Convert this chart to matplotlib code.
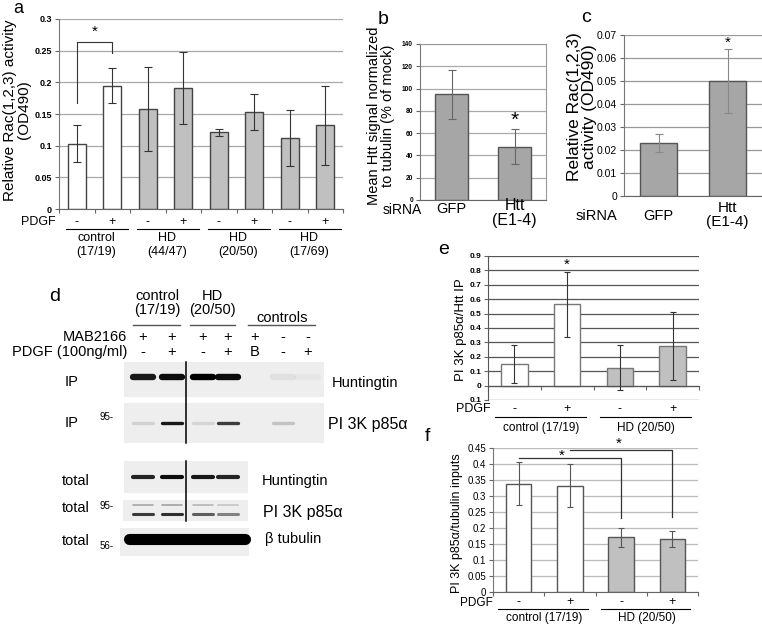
import matplotlib
matplotlib.use('Agg')
import matplotlib.pyplot as plt
import matplotlib.transforms as mtransforms
from matplotlib.patches import Rectangle

plt.rcParams['font.family'] = ['Liberation Sans', 'DejaVu Sans']

W, H = 762, 626

# panel a: Rac activity in fibroblasts
a_groups = ['control\n(17/19)', 'HD\n(44/47)', 'HD\n(20/50)', 'HD\n(17/69)']
a_pdgf = ['-', '+', '-', '+', '-', '+', '-', '+']
a_mean = [0.103, 0.195, 0.158, 0.191, 0.121, 0.153, 0.112, 0.132]
a_err = [0.029, 0.027, 0.067, 0.057, 0.006, 0.028, 0.044, 0.063]
a_ticks = [0, 0.05, 0.1, 0.15, 0.2, 0.25, 0.3]
a_ticklabels = ['0', '0.05', '0.1', '0.15', '0.2', '0.25', '0.3']

# panel b: Htt knockdown
b_labels = ['GFP', 'Htt\n(E1-4)']
b_mean = [95, 48]
b_err = [22, 15.5]

# panel c: Rac after knockdown
c_mean = [0.023, 0.050]
c_err = [0.004, 0.014]

# panel e: PI3K p85a / Htt IP
e_pdgf = ['-', '+', '-', '+']
e_groups = ['control (17/19)', 'HD (20/50)']
e_mean = [0.15, 0.565, 0.125, 0.275]
e_err = [0.135, 0.225, 0.155, 0.237]
e_ticks = [-0.1, 0, 0.1, 0.2, 0.3, 0.4, 0.5, 0.6, 0.7, 0.8, 0.9]
e_ticklabels = ['0.1', '0', '0.1', '0.2', '0.3', '0.4', '0.5', '0.6', '0.7', '0.8', '0.9']

# panel f: PI3K p85a / tubulin inputs
f_mean = [0.338, 0.332, 0.171, 0.166]
f_err = [0.067, 0.067, 0.030, 0.026]
f_ticks = [0, 0.05, 0.1, 0.15, 0.2, 0.25, 0.3, 0.35, 0.4, 0.45]
f_ticklabels = ['0', '0.05', '0.1', '0.15', '0.2', '0.25', '0.3', '0.35', '0.4', '0.45']

# panel d: western blot lanes
d_mab = ['+', '+', '+', '+', '+', '-', '-']
d_pdgf = ['-', '+', '-', '+', 'B', '-', '+']
ip_htt = [0.9, 0.95, 1.0, 0.95, 0.0, 0.06, 0.03]
ip_pi3k = [0.12, 0.9, 0.1, 0.75, 0.0, 0.18, 0.0]
total_htt = [0.85, 0.95, 0.9, 0.85]
total_pi3k = [0.75, 0.8, 0.6, 0.45]

WHITE = 'white'
GREY = '#c0c0c0'
DARK = '#a6a6a6'

fig = plt.figure(figsize=(W / 100, H / 100), dpi=100)

ov = fig.add_axes([0, 0, 1, 1], zorder=10)
ov.set_xlim(0, W)
ov.set_ylim(H, 0)
ov.axis('off')
ov.patch.set_visible(False)


def px_axes(x0, y0, x1, y1):
    return fig.add_axes([x0 / W, 1 - y1 / H, (x1 - x0) / W, (y1 - y0) / H])


def mixed(ax):
    # x in data units of ax, y in reference pixels
    return mtransforms.blended_transform_factory(ax.transData, ov.transData)


def base_axes(ax, n, ticks, labels, ylim, fs, bold, grid_col):
    ax.set_xlim(-0.5, n - 0.5)
    ax.set_ylim(*ylim)
    ax.set_yticks(ticks)
    ax.set_yticklabels(labels, fontsize=fs, fontweight='bold' if bold else 'normal')
    ax.yaxis.grid(True, color=grid_col, lw=0.9)
    ax.set_axisbelow(True)
    ax.tick_params(axis='y', length=3, width=0.8, color='#666', pad=2)
    ax.tick_params(axis='x', length=3, width=0.8, color='#666')
    for s in ['top', 'right']:
        ax.spines[s].set_visible(False)
    ax.spines['left'].set_color('#777')
    ax.spines['bottom'].set_color('#666')


# ---------------- panel a ----------------
ax = px_axes(59, 19, 343, 209)
base_axes(ax, 8, a_ticks, a_ticklabels, (0, 0.3), 6.5, True, '#a8a8a8')
xs = list(range(8))
cols = [WHITE, WHITE] + [GREY] * 6
ax.bar(xs, a_mean, width=0.52, color=cols, edgecolor='#444', lw=1, zorder=2)
ax.errorbar(xs, a_mean, yerr=a_err, fmt='none', ecolor='#333', elinewidth=0.8, capsize=3, capthick=0.8, zorder=3)
ax.set_xticks([i - 0.5 for i in range(9)])
ax.set_xticklabels([])
ax.plot([0, 0, 1, 1], [0.168, 0.264, 0.264, 0.247], color='#333', lw=0.8, zorder=3)
ax.text(0.5, 0.268, '*', ha='center', va='bottom', fontsize=11)
t = mixed(ax)
ax.text(-0.6, 222, 'PDGF', transform=t, ha='right', va='center', fontsize=9)
for i, s in enumerate(a_pdgf):
    ax.text(i, 222, s, transform=t, ha='center', va='center', fontsize=9)
for g, lab in enumerate(a_groups):
    ax.plot([2 * g - 0.3, 2 * g + 1.45], [229, 229], transform=t, color='black', lw=0.8, clip_on=False)
    ax.text(2 * g + 0.55, 245, lab, transform=t, ha='center', va='center', fontsize=9, linespacing=1.15)
ov.text(17, 110, 'Relative Rac(1,2,3) activity\n(OD490)', rotation=90, ha='center', va='center',
        fontsize=11, multialignment='center', linespacing=0.95)
ov.text(18, 13, 'a', ha='center', va='baseline', fontsize=13)

# ---------------- panel b ----------------
ax = px_axes(420, 44, 546, 200)
base_axes(ax, 2, list(range(0, 141, 20)), [str(v) for v in range(0, 141, 20)], (0, 140), 4.8, True, '#aaa')
for s in ['top', 'right']:
    ax.spines[s].set_visible(True)
    ax.spines[s].set_color('#999')
ax.set_xticks([])
ax.bar([0, 1], b_mean, width=0.52, color=DARK, edgecolor='#555', lw=1, zorder=2)
ax.errorbar([0, 1], b_mean, yerr=b_err, fmt='none', ecolor='#666', elinewidth=0.8, capsize=3, capthick=0.8, zorder=3)
ax.text(1, 63, '*', ha='center', va='bottom', fontsize=15)
t = mixed(ax)
ax.text(-0.47, 210, 'siRNA', transform=t, ha='right', va='center', fontsize=10)
ax.text(0, 209, b_labels[0], transform=t, ha='center', va='center', fontsize=10.5)
ax.text(1, 213, b_labels[1], transform=t, ha='center', va='center', fontsize=11.5, linespacing=0.95)
ov.text(381, 116, 'Mean Htt signal normalized\nto tubulin (% of mock)', rotation=90, ha='center',
        va='center', fontsize=10.5, multialignment='center', linespacing=1.0)
ov.text(383, 24, 'b', ha='center', va='baseline', fontsize=14)

# ---------------- panel c ----------------
ax = px_axes(624, 35, 762, 196)
c_ticks = [0, 0.01, 0.02, 0.03, 0.04, 0.05, 0.06, 0.07]
base_axes(ax, 2, c_ticks, ['0', '0.01', '0.02', '0.03', '0.04', '0.05', '0.06', '0.07'], (0, 0.07), 7.5, False, '#999')
ax.set_xticks([])
ax.bar([0, 1], c_mean, width=0.55, color=DARK, edgecolor='#555', lw=1, zorder=2)
ax.errorbar([0, 1], c_mean, yerr=c_err, fmt='none', ecolor='#888', elinewidth=0.8, capsize=3, capthick=0.8, zorder=3)
ax.text(1, 0.0635, '*', ha='center', va='bottom', fontsize=11)
t = mixed(ax)
ax.text(-0.6, 216, 'siRNA', transform=t, ha='right', va='center', fontsize=10.5)
ax.text(0, 216, b_labels[0], transform=t, ha='center', va='center', fontsize=10.5)
ax.text(1, 215, b_labels[1], transform=t, ha='center', va='center', fontsize=11, linespacing=0.95)
ov.text(582, 107, 'Relative Rac(1,2,3)\nactivity (OD490)', rotation=90, ha='center', va='center',
        fontsize=12.5, multialignment='center', linespacing=1.05)
ov.text(586, 22, 'c', ha='center', va='baseline', fontsize=14)

# ---------------- panel e ----------------
ax = px_axes(488, 256, 699, 400)
base_axes(ax, 4, e_ticks, e_ticklabels, (-0.1, 0.9), 6, True, '#555')
ax.spines['left'].set_color('#555')
ax.spines['bottom'].set_position(('data', 0))
ax.spines['bottom'].set_color('#555')
ax.set_xticks([i - 0.5 for i in range(5)])
ax.set_xticklabels([])
ax.bar(range(4), e_mean, width=0.5, color=[WHITE, WHITE, GREY, GREY], edgecolor='#777', lw=1, zorder=2)
ax.errorbar(range(4), e_mean, yerr=e_err, fmt='none', ecolor='#333', elinewidth=0.8, capsize=2.5, capthick=0.8, zorder=3)
ax.text(1, 0.79, '*', ha='center', va='bottom', fontsize=11)
t = mixed(ax)
ax.text(-0.45, 409, 'PDGF', transform=t, ha='right', va='center', fontsize=9)
for i, s in enumerate(e_pdgf):
    ax.text(i, 409, s, transform=t, ha='center', va='center', fontsize=9)
for g, lab in enumerate(e_groups):
    ax.plot([2 * g - 0.37, 2 * g + 1.35], [417, 417], transform=t, color='black', lw=0.8, clip_on=False)
    ax.text(2 * g + 0.5, 428, lab, transform=t, ha='center', va='center', fontsize=8.5)
ov.text(461, 330, 'PI 3K p85α/Htt IP', rotation=90, ha='center', va='center', fontsize=9.5)
ov.text(444, 254, 'e', ha='center', va='baseline', fontsize=14)

# ---------------- panel f ----------------
ax = px_axes(493, 448, 698, 592)
base_axes(ax, 4, f_ticks, f_ticklabels, (0, 0.45), 7, False, '#bbb')
ax.set_xticks([i - 0.5 for i in range(5)])
ax.set_xticklabels([])
ax.bar(range(4), f_mean, width=0.5, color=[WHITE, WHITE, GREY, GREY], edgecolor='#555', lw=1, zorder=2)
ax.errorbar(range(4), f_mean, yerr=f_err, fmt='none', ecolor='#555', elinewidth=0.8, capsize=2.5, capthick=0.8, zorder=3)
ax.plot([0, 2, 2], [0.42, 0.42, 0.231], color='#333', lw=0.9, zorder=3, clip_on=False)
ax.plot([1, 3, 3], [0.445, 0.445, 0.235], color='#333', lw=0.9, zorder=3, clip_on=False)
ax.text(0.85, 0.405, '*', ha='center', va='bottom', fontsize=11)
ax.text(1.96, 0.442, '*', ha='center', va='bottom', fontsize=11, clip_on=False)
t = mixed(ax)
ax.text(-0.5, 603, 'PDGF', transform=t, ha='right', va='center', fontsize=8.5)
for i, s in enumerate(e_pdgf):
    ax.text(i, 602, s, transform=t, ha='center', va='center', fontsize=9)
for g, lab in enumerate(e_groups):
    ax.plot([2 * g - 0.4, 2 * g + 1.35], [609, 609], transform=t, color='black', lw=0.8, clip_on=False)
    ax.text(2 * g + 0.5, 618, lab, transform=t, ha='center', va='center', fontsize=8.5)
ov.text(457, 523, 'PI 3K p85α/tubulin inputs', rotation=90, ha='center', va='center', fontsize=9)
ov.text(427, 441, 'f', ha='center', va='baseline', fontsize=14)

# ---------------- panel d (blots drawn in pixel space) ----------------
lanes = [143, 172, 203, 228, 255, 283, 308]
fs = 10.5
ov.text(55, 301, 'd', ha='center', va='baseline', fontsize=14)
ov.text(157, 303, 'control\n(17/19)', ha='center', va='center', fontsize=fs, linespacing=1.0)
ov.text(212, 303, 'HD\n(20/50)', ha='center', va='center', fontsize=fs, linespacing=1.0)
ov.text(282, 318, 'controls', ha='center', va='center', fontsize=fs)
for x0, x1 in [(133, 180), (190, 235), (248, 315)]:
    ov.plot([x0, x1], [325, 325], color='#555', lw=1)
ov.text(127, 337, 'MAB2166', ha='right', va='center', fontsize=fs)
ov.text(127, 352, 'PDGF (100ng/ml)', ha='right', va='center', fontsize=fs)
for x, m, p in zip(lanes, d_mab, d_pdgf):
    ov.text(x, 337, m, ha='center', va='center', fontsize=fs)
    ov.text(x, 352, p, ha='center', va='center', fontsize=fs)

strips = [(124, 362, 324, 397), (124, 403, 324, 443), (124, 461, 248, 493),
          (123, 500, 248, 521), (120, 528, 249, 556)]
for x0, y0, x1, y1 in strips:
    ov.add_patch(Rectangle((x0, y0), x1 - x0, y1 - y0, facecolor='#eeeeee', edgecolor='none'))
for y0, y1 in [(362, 443), (461, 521)]:
    ov.plot([186, 186], [y0, y1], color='black', lw=1.1)


def bands(vals, y, lw, half=10):
    for x, v in zip(lanes, vals):
        if v > 0:
            ov.plot([x - half, x + half], [y, y], color='black', alpha=v, lw=lw, solid_capstyle='round')


bands(ip_htt, 377, 4.6)
bands(ip_pi3k, 423, 2.4)
bands(total_htt, 477, 3.0)
bands(total_pi3k, 514, 2.2)
bands([v * 0.4 for v in total_pi3k], 505, 1.2)
ov.plot([129, 245], [539, 539], color='black', lw=8, solid_capstyle='round')

for y, lab in [(382, 'IP'), (423, 'IP')]:
    ov.text(65, y, lab, ha='left', va='center', fontsize=fs)
for y in [481, 508, 541]:
    ov.text(62, y, 'total', ha='left', va='center', fontsize=fs)
for y, lab in [(417, '95-'), (506, '95-'), (546, '56-')]:
    ov.text(100, y, lab, ha='left', va='center', fontsize=7)
ov.text(332, 383, 'Huntingtin', ha='left', va='center', fontsize=fs)
ov.text(328, 424, 'PI 3K p85α', ha='left', va='center', fontsize=11.5)
ov.text(262, 481, 'Huntingtin', ha='left', va='center', fontsize=fs)
ov.text(263, 512, 'PI 3K p85α', ha='left', va='center', fontsize=11.5)
ov.text(265, 539, 'β tubulin', ha='left', va='center', fontsize=fs)

fig.savefig('out.png', dpi=100)
